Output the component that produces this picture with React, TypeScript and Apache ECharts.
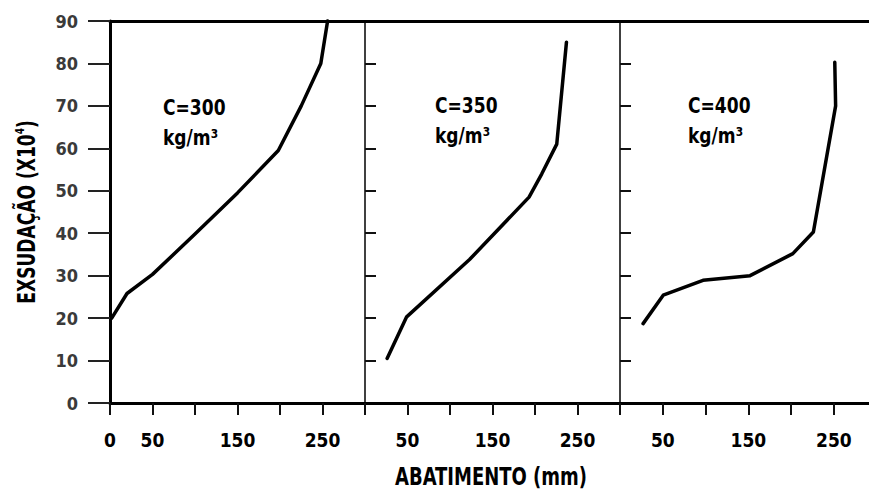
import { useEffect, useRef } from "react";
import * as echarts from "echarts";

const yTicks = [0, 10, 20, 30, 40, 50, 60, 70, 80, 90];
const innerYTicks = [10, 20, 30, 40, 50, 60, 70, 80];
const xTicks = [0, 50, 100, 150, 200, 250];
const xLabelsFirst = [0, 50, 150, 250];
const xLabelsOther = [50, 150, 250];
const panelNames = ["C=300", "C=350", "C=400"];
const unitLabel = "kg/m³";
const xTitle = "ABATIMENTO (mm)";
const yTitleMain = "EXSUDAÇÃO (X10";
const yTitleSup = "4";

// [abatimento (mm), exsudação (x10^4)]
const c300 = [
  [2, 20],
  [20, 25.8],
  [50, 30.3],
  [100, 39.8],
  [150, 49.5],
  [198, 59.5],
  [225, 70],
  [248, 80],
  [256, 90],
];
const c350 = [
  [26, 10.5],
  [49, 20.3],
  [123, 33.8],
  [193, 48.5],
  [208, 54],
  [225.6, 61],
  [237, 85],
];
const c400 = [
  [27, 18.7],
  [50.5, 25.4],
  [97, 28.9],
  [152, 30],
  [202, 35.2],
  [226, 40.3],
  [252, 70],
  [251, 80.3],
];

const FONT = "'DejaVu Sans Condensed', 'DejaVu Sans', sans-serif";

export default function App() {
  const ref = useRef<HTMLDivElement>(null);
  useEffect(() => {
    if (!ref.current) return;
    const chart = echarts.init(ref.current, null, { renderer: "svg" });
    const series = [c300, c350, c400];
    const xMax = [300, 300, 291];
    const grids = [
      { left: 110, top: 21, width: 255, height: 382 },
      { left: 365, top: 21, width: 255, height: 382 },
      { left: 620, top: 21, width: 249, height: 382 },
    ];
    const bottomX = [0, 1, 2].map((i) => ({
      type: "value",
      gridIndex: i,
      position: "bottom",
      min: 0,
      max: xMax[i],
      interval: 50,
      axisLine: { onZero: false, lineStyle: { color: "#000", width: 3 } },
      axisTick: {
        show: true,
        inside: false,
        length: 12,
        customValues: xTicks,
        lineStyle: { color: "#111", width: 2 },
      },
      axisLabel: {
        show: true,
        customValues: i === 0 ? xLabelsFirst : xLabelsOther,
        fontSize: 19,
        fontWeight: "bold",
        fontFamily: FONT,
        color: "#000",
        margin: 27,
      },
      splitLine: { show: false },
    }));
    const topX = [0, 1, 2].map((i) => ({
      type: "value",
      gridIndex: i,
      position: "top",
      min: 0,
      max: xMax[i],
      axisLine: { show: true, onZero: false, lineStyle: { color: "#000", width: 3 } },
      axisTick: { show: false },
      axisLabel: { show: false },
      splitLine: { show: false },
    }));
    const yAxes = [0, 1, 2].map((i) =>
      i === 0
        ? {
            type: "value",
            gridIndex: 0,
            min: 0,
            max: 90,
            interval: 10,
            axisLine: { show: true, onZero: false, lineStyle: { color: "#000", width: 3 } },
            axisTick: {
              show: true,
              inside: false,
              length: 22,
              customValues: yTicks,
              lineStyle: { color: "#222", width: 2 },
            },
            axisLabel: {
              show: true,
              fontSize: 18,
              fontWeight: "bold",
              fontFamily: FONT,
              color: "#3a3a3a",
              margin: 32,
            },
            splitLine: { show: false },
          }
        : {
            type: "value",
            gridIndex: i,
            min: 0,
            max: 90,
            interval: 10,
            axisLine: { show: true, onZero: false, lineStyle: { color: "#000", width: 1.5 } },
            axisTick: {
              show: true,
              inside: true,
              length: 11,
              customValues: innerYTicks,
              lineStyle: { color: "#111", width: 2 },
            },
            axisLabel: { show: false },
            splitLine: { show: false },
          }
    );

    const labelPos = [
      { x: 163, y: 97 },
      { x: 435, y: 95 },
      { x: 688, y: 95 },
    ];
    const textStyle = (text: string) => ({
      text,
      fill: "#000",
      fontSize: 19,
      fontWeight: "bold",
      fontFamily: FONT,
      align: "left",
      verticalAlign: "top",
    });
    const panelTexts: any[] = [];
    labelPos.forEach((p, i) => {
      panelTexts.push({ type: "text", x: p.x, y: p.y, scaleY: 1.15, style: textStyle(panelNames[i]) });
      panelTexts.push({ type: "text", x: p.x, y: p.y + 30, scaleY: 1.15, style: textStyle(unitLabel) });
    });

    chart.setOption({
      animation: false,
      backgroundColor: "#fff",
      grid: grids,
      xAxis: [...bottomX, ...topX],
      yAxis: yAxes,
      series: series.map((d, i) => ({
        type: "line",
        xAxisIndex: i,
        yAxisIndex: i,
        data: d,
        symbol: "none",
        lineStyle: { color: "#000", width: 3.5, join: "round", cap: "round" },
        clip: false,
      })),
      graphic: [
        ...panelTexts,
        {
          type: "text",
          x: 491,
          y: 476,
          scaleY: 1.2,
          style: {
            text: xTitle,
            fill: "#000",
            fontSize: 20,
            fontWeight: "bold",
            fontFamily: FONT,
            align: "center",
            verticalAlign: "middle",
          },
        },
        {
          type: "text",
          x: 27,
          y: 212,
          rotation: Math.PI / 2,
          scaleY: 1.3,
          style: {
            text: `{a|${yTitleMain}}{s|${yTitleSup}}{a|)}`,
            align: "center",
            verticalAlign: "middle",
            rich: {
              a: { fontSize: 19, fontWeight: "bold", fontFamily: FONT, fill: "#000", lineHeight: 22 },
              s: {
                fontSize: 10,
                fontWeight: "bold",
                fontFamily: FONT,
                fill: "#000",
                lineHeight: 22,
                verticalAlign: "top",
              },
            },
          },
        },
      ],
    });
    return () => chart.dispose();
  }, []);
  return (
    <div
      ref={ref}
      style={{ position: "fixed", left: 0, top: 0, width: 869, height: 490, background: "#fff" }}
    />
  );
}
